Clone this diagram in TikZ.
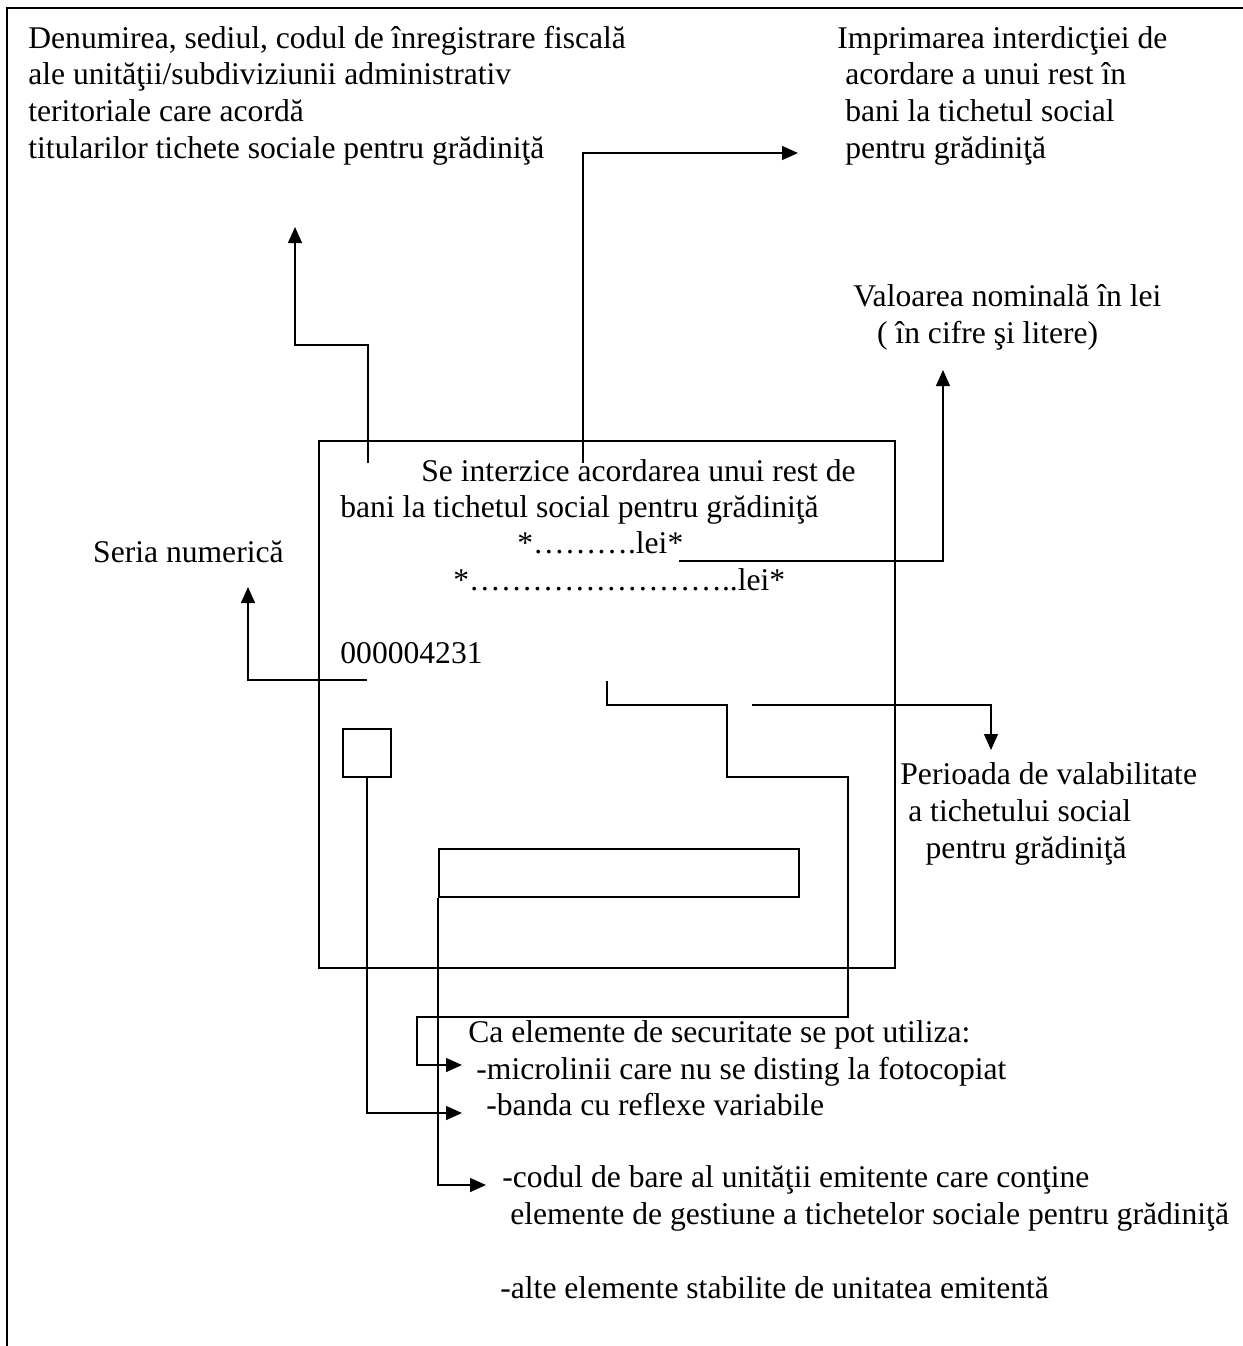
\documentclass[tikz,border=0pt]{standalone}
\usepackage{fontspec}
\setmainfont{Liberation Serif}
\usetikzlibrary{arrows.meta}

\begin{document}
\begin{tikzpicture}[x=0.5pt, y=-0.5pt,
  font=\fontsize{15.8}{18.3}\selectfont,
  txt/.style={anchor=base west, inner sep=0pt, align=left},
  pointer/.style={-{Triangle[length=8pt, width=7pt]}, line width=0.7pt},
  box/.style={draw, line width=0.9pt, inner sep=0pt}]
\useasboundingbox (0,0) rectangle (1243,1346);
\draw[line width=1pt] (1243,8) -- (7,8) -- (7,1346);

% the ticket
\node[box, minimum width=288pt, minimum height=263.5pt] (ticket) at (607,704.5) {};
\node[box, minimum size=24pt] (hologram) at (367,753) {};
\node[box, minimum width=180pt, minimum height=24pt] (barcode) at (619,873) {};
\node[txt] (forbid_a) at (421,481) {Se interzice acordarea unui rest de};
\node[txt] (forbid_b) at (340,517) {bani la tichetul social pentru grădiniţă};
\node[txt] (sum_digits) at (517,553) {*……….lei*};
\node[txt] (sum_words) at (453,590) {*……………………..lei*};
\node[txt] (serial) at (340,663) {000004231};

% explanations (multi-line nodes sit on their last line)
\node[txt] (issuer) at (28,158) {Denumirea, sediul, codul de înregistrare fiscală\\ale unităţii/subdiviziunii administrativ\\teritoriale care acordă\\titularilor tichete sociale pentru grădiniţă};
\node[txt] (no_change) at (837,158) {Imprimarea interdicţiei de\\\hspace*{.25em}acordare a unui rest în\\\hspace*{.25em}bani la tichetul social\\\hspace*{.25em}pentru grădiniţă};
\node[txt] (nominal) at (853,343) {Valoarea nominală în lei\\\hspace*{.75em}( în cifre şi litere)};
\node[txt, anchor=base east] (series) at (284,562) {Seria numerică};
\node[txt] (validity) at (900,858) {Perioada de valabilitate\\\hspace*{.25em}a tichetului social\\\hspace*{.8em}pentru grădiniţă};
\node[txt] (sec_title) at (468,1042) {Ca elemente de securitate se pot utiliza:};
\node[txt] (sec_micro) at (476,1079) {-microlinii care nu se disting la fotocopiat};
\node[txt] (sec_band) at (486,1115) {-banda cu reflexe variabile};
\node[txt] (sec_code) at (502,1224) {-codul de bare al unităţii emitente care conţine\\\hspace*{.25em}elemente de gestiune a tichetelor sociale pentru grădiniţă};
\node[txt] (sec_other) at (500,1298) {-alte elemente stabilite de unitatea emitentă};

% arrow ends
\coordinate (issuer_foot) at (368,463);
\coordinate (issuer_tip) at (295,227);
\coordinate (no_change_foot) at (583,463);
\coordinate (no_change_tip) at (798,153);
\coordinate (nominal_start) at (679,561);
\coordinate (nominal_tip) at (943,370);
\coordinate (series_start) at (367,680);
\coordinate (series_tip) at (248,587);
\coordinate (validity_start) at (752,705);
\coordinate (validity_tip) at (991,750);
\coordinate (micro_start) at (607,681);
\coordinate (micro_tip) at (462,1065);
\coordinate (band_tip) at (462,1113);
\coordinate (code_tip) at (486,1185);

\draw[pointer] (issuer_foot) -- ++(0,-118) -| (issuer_tip);
\draw[pointer] (no_change_foot) |- (no_change_tip);
\draw[pointer] (nominal_start) -| (nominal_tip);
\draw[pointer] (series_start) -| (series_tip);
\draw[pointer] (validity_start) -| (validity_tip);
\draw[pointer] (micro_start) |- (727,705) |- (848,777) |- (417,1017) |- (micro_tip);
\draw[pointer] (hologram.south) |- (band_tip);
\draw[pointer] (barcode.south west) |- (code_tip);
\end{tikzpicture}
\end{document}
